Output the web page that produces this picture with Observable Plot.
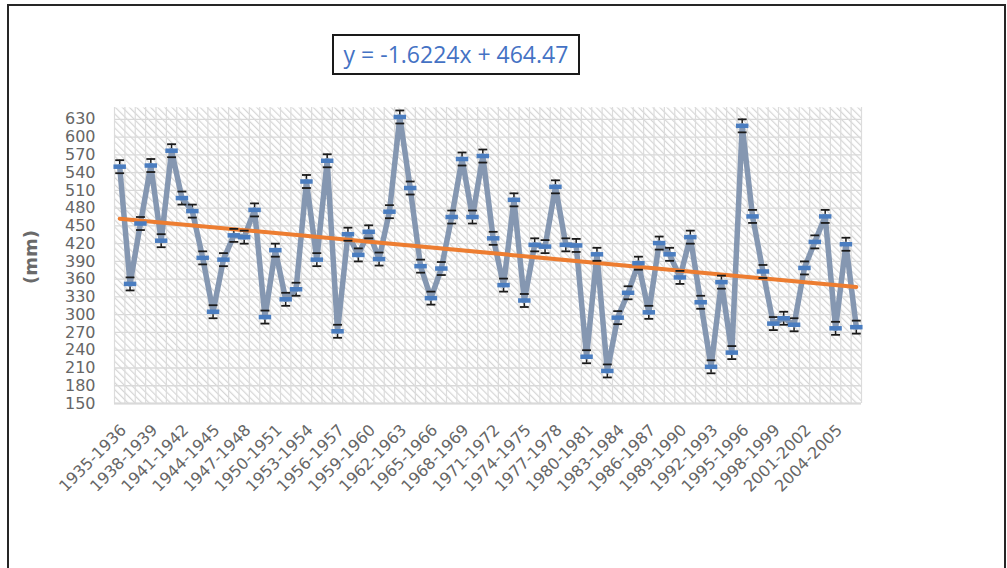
<!DOCTYPE html>
<html><head><meta charset="utf-8">
<script src="https://cdn.jsdelivr.net/npm/d3@7"></script>
<script src="https://cdn.jsdelivr.net/npm/@observablehq/plot@0.6"></script>
<style>
body{margin:0;background:#fff;width:1007px;height:568px;overflow:hidden;position:relative;font-family:"DejaVu Sans",sans-serif}
#chart{position:absolute;left:0;top:0}
#frame{position:absolute;left:7px;top:4px;width:999px;height:600px;border:2px solid #262626;box-sizing:border-box;pointer-events:none}
#eq{position:absolute;left:332px;top:34px;width:248px;height:41px;border:2px solid #1a1a1a;box-sizing:border-box;background:#fff;color:#4472c4;font-family:"Open Sans",sans-serif;font-size:23px;line-height:37px;text-align:center;white-space:nowrap}
#ylab{position:absolute;left:30px;top:257px;transform:translate(-50%,-50%) rotate(-90deg);font-family:"DejaVu Sans",sans-serif;font-weight:bold;font-size:18px;color:#6a6a6a;white-space:nowrap}
</style></head><body>
<div id="chart"></div>
<div id="frame"></div>
<div id="eq">y = -1.6224x + 464.47</div>
<div id="ylab">(mm)</div>
<script>
// Season categories (1935-1936 ... 2006-2007)
const seasons = d3.range(1935, 2007).map(y => `${y}-${y + 1}`);
// Rainfall values (mm)
const rainfall = [
  550, 352, 454, 552, 425, 577, 497, 475, 396, 305,
  393, 434, 431, 477, 296, 409, 326, 343, 525, 393,
  560, 272, 436, 401, 440, 394, 474, 634, 514, 382,
  328, 378, 465, 563, 465, 568, 429, 350, 494, 324,
  418, 415, 516, 418, 417, 229, 402, 205, 295, 337,
  387, 304, 421, 402, 363, 431, 321, 212, 355, 236,
  619, 466, 373, 285, 294, 283, 379, 423, 466, 277,
  419, 279
];
// Error bar half-width (mm)
const errorMargin = 11;
// Y tick labels
const yTicks = [150, 180, 210, 240, 270, 300, 330, 360, 390, 420, 450, 480, 510, 540, 570, 600, 630];
// X tick labels: every third season
const xTickLabels = seasons.filter((s, k) => k % 3 === 0);

const data = rainfall.map((v, k) => ({i: k + 1, v, season: seasons[k]}));
const xTicks = xTickLabels.map(s => seasons.indexOf(s) + 1);
const boundaries = d3.range(0, seasons.length + 1).map(k => k + 0.5);

const chart = Plot.plot({
  width: 1007, height: 568,
  marginLeft: 114, marginRight: 146, marginTop: 107, marginBottom: 165,
  style: {fontFamily: "DejaVu Sans", fontSize: "16px", color: "#666666", background: "transparent"},
  x: {type: "linear", domain: [0.5, seasons.length + 0.5]},
  y: {domain: [150, 650]},
  marks: [
    Plot.frame({fill: "url(#hatch)"}),
    Plot.gridY(yTicks, {stroke: "#d9d9d9", strokeOpacity: 1, strokeWidth: 1.3}),
    Plot.gridX(boundaries, {stroke: "#dcdcdc", strokeOpacity: 1, strokeWidth: 1.2}),
    Plot.ruleY([150], {stroke: "#d9d9d9", strokeWidth: 2}),
    Plot.axisY({ticks: yTicks, tickSize: 0, tickPadding: 19, label: null}),
    Plot.axisX({ticks: xTicks, tickFormat: i => seasons[i - 1], tickRotate: -45, tickSize: 0, tickPadding: 24, dx: 4, label: null}),
    Plot.ruleX(data, {x: "i", y1: d => d.v - errorMargin, y2: d => d.v + errorMargin, stroke: "#1a1a1a", strokeWidth: 1.5}),
    Plot.line(data, {x: "i", y: "v", stroke: "#8597b1", strokeWidth: 5.5}),
    Plot.linearRegressionY(data, {x: "i", y: "v", stroke: "#ed7d31", strokeWidth: 4, ci: 0}),
    Plot.link(data, {x1: d => d.i - 0.43, x2: d => d.i + 0.43, y1: d => d.v + errorMargin, y2: d => d.v + errorMargin, stroke: "#1a1a1a", strokeWidth: 1.8}),
    Plot.link(data, {x1: d => d.i - 0.43, x2: d => d.i + 0.43, y1: d => d.v - errorMargin, y2: d => d.v - errorMargin, stroke: "#1a1a1a", strokeWidth: 1.8}),
    Plot.link(data, {x1: d => d.i - 0.6, x2: d => d.i + 0.6, y1: "v", y2: "v", stroke: "#4a7dc0", strokeWidth: 4.5, strokeLinecap: "butt"})
  ]
});

d3.select(chart).insert("defs", ":first-child").html(
  `<pattern id="hatch" width="5" height="5" patternUnits="userSpaceOnUse" patternTransform="rotate(-45)">
     <rect width="5" height="5" fill="#ffffff"/>
     <line x1="0" y1="0" x2="0" y2="5" stroke="#d6d6d6" stroke-width="2.4"/>
   </pattern>`
);
document.getElementById("chart").appendChild(chart);
</script>
</body></html>
